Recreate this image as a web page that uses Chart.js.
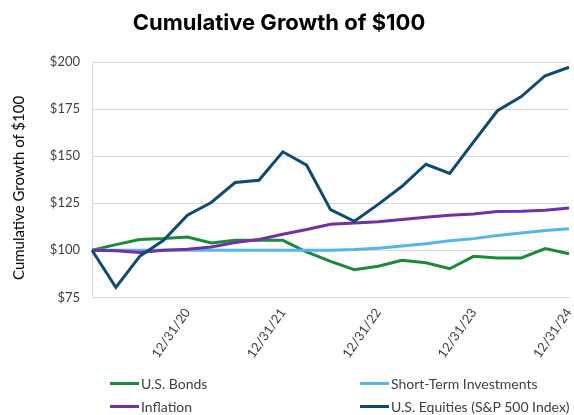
<!DOCTYPE HTML>
<html lang="en-US">

<head>
    <title>Cumulative Growth of $100</title>
    <meta charset="utf-8" />
    <script src="https://cdn.jsdelivr.net/npm/chart.js@4"></script>
    <style>
        body { margin: 0; background: #fff; }
        #wrap { position: relative; width: 574px; height: 415px; }
        #title { position: absolute; left: 0; width: 558px; top: 11px; line-height: 22px; text-align: center; font-family: Inter, sans-serif; font-size: 22px; font-weight: bold; color: #000; }
        #ytitle { position: absolute; left: 18px; top: 188px; transform: translate(-50%, -50%) rotate(-90deg); white-space: nowrap; font-family: Lato, "Open Sans", sans-serif; font-size: 15px; color: #000; }
        #legend { position: absolute; left: 0; top: 375px; width: 574px; font-family: Lato, "Open Sans", sans-serif; font-size: 14px; color: #404040; }
        .item { position: absolute; display: flex; align-items: center; white-space: nowrap; }
        .swatch { width: 29px; height: 3px; margin-right: 2px; }
    </style>
</head>

<body>
    <div id="wrap">
        <canvas id="graph" width="574" height="415"></canvas>
        <div id="title">Cumulative Growth of $100</div>
        <div id="ytitle">Cumulative Growth of $100</div>
        <div id="legend"></div>
    </div>
    <script>
        const quarters = ['12/31/19', '3/31/20', '6/30/20', '9/30/20', '12/31/20', '3/31/21', '6/30/21', '9/30/21', '12/31/21',
            '3/31/22', '6/30/22', '9/30/22', '12/31/22', '3/31/23', '6/30/23', '9/30/23', '12/31/23',
            '3/31/24', '6/30/24', '9/30/24', '12/31/24'];

        const bonds = [100, 103, 105.7, 106.2, 107.1, 103.9, 105.3, 105.3, 105.3, 99.1, 94.1,
            89.7, 91.5, 94.7, 93.4, 90.2, 96.8, 95.9, 95.9, 100.9, 98.2];
        const shortTerm = [100, 100, 100, 100, 100, 100, 100, 100, 100, 100, 100,
            100.4, 101.1, 102.3, 103.5, 105.1, 106.2, 107.8, 109.2, 110.5, 111.5];
        const inflation = [100, 99.7, 98.8, 100, 100.6, 101.8, 104.1, 105.7, 108.5, 111, 113.8,
            114.5, 115.1, 116.3, 117.6, 118.6, 119.3, 120.6, 120.8, 121.3, 122.5];
        const equities = [100, 80.3, 96.8, 105.3, 118.6, 125.4, 136, 137.2, 152.3, 145.2, 121.6,
            115.4, 124.4, 134, 145.7, 140.8, 157.6, 174.1, 181.6, 192.7, 197.2];

        const yTicks = [75, 100, 125, 150, 175, 200];

        const series = [
            { label: 'U.S. Bonds', data: bonds, color: '#1c8a3e', order: 4, left: 110, top: 0 },
            { label: 'Short-Term Investments', data: shortTerm, color: '#56b5ea', order: 3, left: 360, top: 0 },
            { label: 'Inflation', data: inflation, color: '#7131a1', order: 2, left: 110, top: 23 },
            { label: 'U.S. Equities (S&P 500 Index)', data: equities, color: '#0f4b70', order: 1, left: 360, top: 23 }
        ];

        const tickFont = { family: 'Lato, "Open Sans", sans-serif', size: 13 };

        const graph = new Chart(document.getElementById('graph').getContext('2d'), {
            type: 'line',
            data: {
                labels: quarters,
                datasets: series.map(s => ({
                    label: s.label,
                    data: s.data,
                    borderColor: s.color,
                    backgroundColor: s.color,
                    borderWidth: 3,
                    pointRadius: 0,
                    tension: 0,
                    fill: false,
                    order: s.order
                }))
            },
            options: {
                responsive: false,
                animation: false,
                layout: { padding: { left: 12, right: 5, top: 62, bottom: 46 } },
                plugins: {
                    legend: { display: false },
                    tooltip: { enabled: false },
                    title: { display: false }
                },
                scales: {
                    x: {
                        offset: false,
                        grid: { display: false, drawTicks: false },
                        border: { display: true, color: '#d9d9d9', width: 1 },
                        afterFit: axis => { axis.paddingRight = 0; axis.paddingLeft = 0; },
                        ticks: {
                            autoSkip: false,
                            maxRotation: 55,
                            minRotation: 55,
                            padding: 8,
                            color: '#404040',
                            font: tickFont,
                            callback: (v, i) => (i > 0 && i % 4 === 0) ? quarters[i] : ''
                        }
                    },
                    y: {
                        min: yTicks[0],
                        max: yTicks[yTicks.length - 1],
                        afterBuildTicks: axis => { axis.ticks = yTicks.map(v => ({ value: v })); },
                        // leave room on the left for the rotated axis title
                        afterFit: axis => { axis.width = 80; },
                        grid: { color: '#d9d9d9', drawTicks: false },
                        border: { display: true, color: '#d9d9d9' },
                        ticks: {
                            padding: 12,
                            color: '#404040',
                            font: tickFont,
                            callback: v => '$' + v
                        }
                    }
                }
            }
        });

        // legend laid out in two columns like the original
        const legend = document.getElementById('legend');
        for (const s of series) {
            const item = document.createElement('div');
            item.className = 'item';
            item.style.left = s.left + 'px';
            item.style.top = s.top + 'px';
            item.innerHTML = '<span class="swatch" style="background:' + s.color + '"></span>' + s.label;
            legend.appendChild(item);
        }
    </script>
</body>

</html>
